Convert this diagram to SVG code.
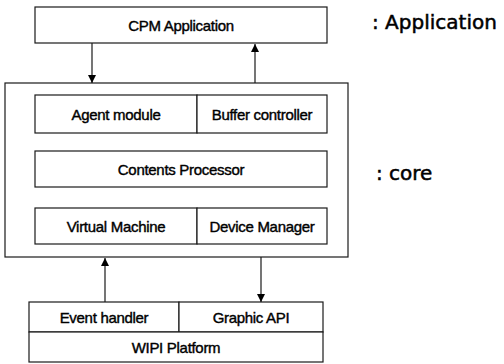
<svg xmlns="http://www.w3.org/2000/svg" width="504" height="364" viewBox="0 0 504 364">
<defs>
<style>
.box{fill:#fff;stroke:#1a1a1a;stroke-width:1.2}
.ln{stroke:#1a1a1a;stroke-width:1.2;fill:none}
.t{font-family:"Liberation Sans",Arial,sans-serif;font-size:15px;fill:#000;stroke:#000;stroke-width:0.4;text-anchor:middle;dominant-baseline:central;letter-spacing:-0.3px}
.lab{font-family:"DejaVu Sans",Verdana,sans-serif;font-size:20px;fill:#000;stroke:#000;stroke-width:0.5}
</style>
<marker id="ah" viewBox="0 0 8 10" refX="8" refY="5" markerWidth="8" markerHeight="10" markerUnits="userSpaceOnUse" orient="auto">
<path d="M0,1 L8,5 L0,9 Z" fill="#000"/>
</marker>
</defs>
<rect width="504" height="364" fill="#fff"/>
<g id="cpm">
<rect class="box" x="35" y="7" width="292" height="36"/>
<text class="t" x="181" y="25">CPM Application</text>
</g>
<g id="core">
<rect class="box" x="5" y="83" width="343" height="174"/>
</g>
<g id="agent">
<rect class="box" x="35" y="95" width="162" height="38"/>
<text class="t" x="116" y="114">Agent module</text>
</g>
<g id="buffer">
<rect class="box" x="197" y="95" width="130" height="38"/>
<text class="t" x="262" y="114">Buffer controller</text>
</g>
<g id="contents">
<rect class="box" x="35" y="151" width="292" height="36"/>
<text class="t" x="181" y="169">Contents Processor</text>
</g>
<g id="vm">
<rect class="box" x="35" y="208" width="162" height="36"/>
<text class="t" x="116" y="226">Virtual Machine</text>
</g>
<g id="dm">
<rect class="box" x="197" y="208" width="130" height="36"/>
<text class="t" x="262" y="226">Device Manager</text>
</g>
<g id="event">
<rect class="box" x="29" y="302" width="150" height="30"/>
<text class="t" x="104" y="317">Event handler</text>
</g>
<g id="graphic">
<rect class="box" x="179" y="302" width="144" height="30"/>
<text class="t" x="251" y="317">Graphic API</text>
</g>
<g id="wipi">
<rect class="box" x="29" y="332" width="294" height="30"/>
<text class="t" x="176" y="347">WIPI Platform</text>
</g>
<g id="labels">
<text class="lab" x="372" y="29">: Application</text>
<text class="lab" x="376" y="180">: core</text>
</g>
<g id="connectors">
<line class="ln" x1="92" y1="43" x2="92" y2="83" marker-end="url(#ah)"/>
<line class="ln" x1="255" y1="83" x2="255" y2="44" marker-end="url(#ah)"/>
<line class="ln" x1="105" y1="302" x2="105" y2="258" marker-end="url(#ah)"/>
<line class="ln" x1="261" y1="257" x2="261" y2="302" marker-end="url(#ah)"/>
</g>
</svg>
